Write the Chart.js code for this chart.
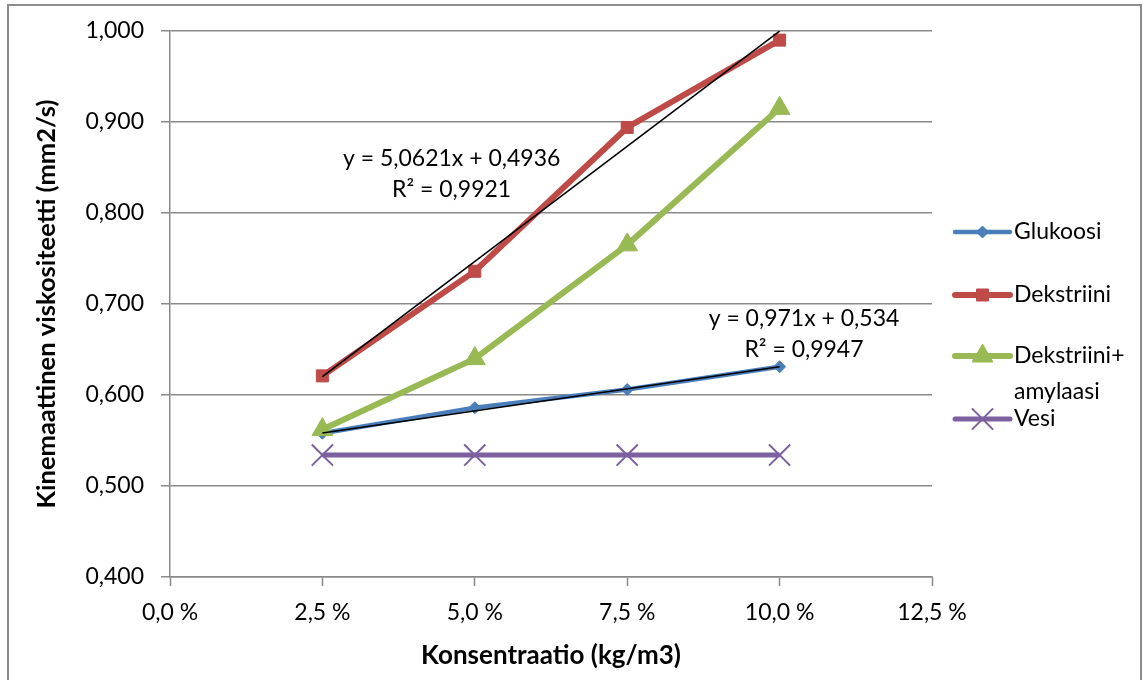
<!DOCTYPE html>
<html>
<head>
<meta charset="utf-8">
<title>Kinemaattinen viskositeetti</title>
<script src="https://cdn.jsdelivr.net/npm/chart.js@4/dist/chart.umd.min.js"></script>
<style>
  html, body { margin: 0; padding: 0; background: #fff; overflow: hidden; }
  #wrap { position: relative; width: 1143px; height: 680px; }
  #c { position: absolute; left: 0; top: 0; }
  #frame { position: absolute; left: 7px; top: 4px; width: 1135px; height: 720px;
           border: 2px solid #8c8c8c; box-sizing: border-box; pointer-events: none; }
</style>
</head>
<body>
<div id="wrap">
  <canvas id="c" width="1143" height="680"></canvas>
  <div id="frame"></div>
</div>
<script>
// Concentrations (mass fraction) and measured kinematic viscosities (mm2/s)
const concentrations = [0.025, 0.05, 0.075, 0.10];
const glukoosi = [0.558, 0.586, 0.606, 0.631];
const dekstriini = [0.621, 0.736, 0.894, 0.990];
const dekstriiniAmylaasi = [0.562, 0.640, 0.765, 0.915];
const vesi = [0.534, 0.534, 0.534, 0.534];

// Linear fits: [slope, intercept]
const glukoosiFit = [0.971, 0.534];
const dekstriiniFit = [5.0621, 0.4936];
const glukoosiFitText = ['y = 0,971x + 0,534', 'R² = 0,9947'];
const dekstriiniFitText = ['y = 5,0621x + 0,4936', 'R² = 0,9921'];

// Axis ticks
const xTicks = [0, 0.025, 0.05, 0.075, 0.10, 0.125];
const xTickLabels = ['0,0 %', '2,5 %', '5,0 %', '7,5 %', '10,0 %', '12,5 %'];
const yTicks = [0.4, 0.5, 0.6, 0.7, 0.8, 0.9, 1.0];
const yTickLabels = ['0,400', '0,500', '0,600', '0,700', '0,800', '0,900', '1,000'];

const FONT = 'Lato, Carlito, Calibri, "Open Sans", sans-serif';
const GRID = '#8a8a8a';

function points(xs, ys) { return xs.map((x, i) => ({ x: x, y: ys[i] })); }
function fitLine(fit) {
  const xs = [concentrations[0], concentrations[concentrations.length - 1]];
  return xs.map(x => ({ x: x, y: fit[0] * x + fit[1] }));
}

const series = [
  { label: 'Glukoosi', data: points(concentrations, glukoosi), borderColor: '#4a7ebb', backgroundColor: '#4a7ebb',
    borderWidth: 4.5, pointStyle: 'rectRot', pointRadius: 6, pointBorderWidth: 1, order: 3 },
  { label: 'Dekstriini', data: points(concentrations, dekstriini), borderColor: '#be4b48', backgroundColor: '#be4b48',
    borderWidth: 6, pointStyle: 'rect', pointRadius: 8.5, pointBorderWidth: 1, order: 2 },
  { label: 'Dekstriini+\namylaasi', data: points(concentrations, dekstriiniAmylaasi), borderColor: '#98b954', backgroundColor: '#98b954',
    borderWidth: 6, pointStyle: 'triangle', pointRadius: 12, pointBorderWidth: 1, order: 1 },
  { label: 'Vesi', data: points(concentrations, vesi), borderColor: '#7d60a0', backgroundColor: '#7d60a0',
    borderWidth: 5, pointStyle: 'crossRot', pointRadius: 15, pointBorderWidth: 2, order: 4 }
];

const trends = [
  { label: 'trend-glukoosi', data: fitLine(glukoosiFit), borderColor: '#000', borderWidth: 1.6,
    pointRadius: 0, order: 0 },
  { label: 'trend-dekstriini', data: fitLine(dekstriiniFit), borderColor: '#000', borderWidth: 1.6,
    pointRadius: 0, order: 0 }
];

// Draws the trendline equations at positions given in data units
const equationPlugin = {
  id: 'equations',
  afterDatasetsDraw(chart, args, opts) {
    const ctx = chart.ctx;
    const xs = chart.scales.x, ys = chart.scales.y;
    ctx.save();
    ctx.font = '23px ' + FONT;
    ctx.fillStyle = '#000';
    ctx.textAlign = 'center';
    ctx.textBaseline = 'middle';
    opts.items.forEach(it => {
      const cx = xs.getPixelForValue(it.x);
      const cy = ys.getPixelForValue(it.y);
      const n = it.lines.length;
      it.lines.forEach((t, i) => {
        ctx.fillText(t, cx, cy + (i - (n - 1) / 2) * 31);
      });
    });
    ctx.restore();
  }
};

// Legend on the right, built from the data series' own styles
const legendPlugin = {
  id: 'sideLegend',
  afterDraw(chart, args, opts) {
    const ctx = chart.ctx;
    ctx.save();
    ctx.font = '23px ' + FONT;
    ctx.textBaseline = 'middle';
    ctx.textAlign = 'left';
    series.forEach((s, i) => {
      const y = opts.rows[i];
      ctx.strokeStyle = s.borderColor;
      ctx.lineWidth = s.borderWidth;
      ctx.lineCap = 'round';
      ctx.beginPath();
      ctx.moveTo(opts.lineX0, y);
      ctx.lineTo(opts.lineX1, y);
      ctx.stroke();
      ctx.lineCap = 'butt';
      ctx.fillStyle = s.backgroundColor;
      ctx.strokeStyle = s.borderColor;
      ctx.lineWidth = s.pointBorderWidth;
      Chart.helpers.drawPoint(ctx, { pointStyle: s.pointStyle, radius: s.pointRadius, rotation: 0,
        borderWidth: s.pointBorderWidth }, (opts.lineX0 + opts.lineX1) / 2, y);
      ctx.fillStyle = '#000';
      s.label.split('\n').forEach((t, k) => ctx.fillText(t, opts.textX, y + k * 36));
    });
    ctx.restore();
  }
};

function draw() {
  Chart.defaults.font.family = FONT;
  Chart.defaults.color = '#000';
  new Chart(document.getElementById('c'), {
    type: 'line',
    data: { datasets: series.map(s => Object.assign({ fill: false, tension: 0 }, s)).concat(trends) },
    options: {
      responsive: false,
      animation: false,
      events: [],
      layout: { padding: { left: 0, right: 211, top: 31, bottom: 0 } },
      plugins: {
        legend: { display: false },
        tooltip: { enabled: false },
        equations: {
          items: [
            { x: 0.0462, y: 0.8429, lines: dekstriiniFitText },
            { x: 0.1040, y: 0.6665, lines: glukoosiFitText }
          ]
        },
        sideLegend: { rows: [232, 295, 356, 419], lineX0: 955, lineX1: 1010, textX: 1014 }
      },
      scales: {
        x: {
          type: 'linear', min: 0, max: 0.125,
          afterBuildTicks: sc => { sc.ticks = xTicks.map(v => ({ value: v })); },
          afterFit: sc => { sc.height = 103; },
          ticks: { font: { size: 23 }, padding: 13, maxRotation: 0, autoSkip: false,
                   callback: (v, i) => xTickLabels[i] },
          grid: { drawOnChartArea: false, drawTicks: true, tickLength: 9, tickColor: GRID, tickWidth: 1.5 },
          border: { display: true, color: GRID, width: 1.5 },
          title: { display: true, text: 'Konsentraatio (kg/m3)', font: { size: 26, weight: 'bold' },
                   padding: { top: 0, bottom: 9 } }
        },
        y: {
          type: 'linear', min: 0.4, max: 1.0,
          afterBuildTicks: sc => { sc.ticks = yTicks.map(v => ({ value: v })); },
          afterFit: sc => { sc.width = 170; },
          ticks: { font: { size: 23 }, padding: 17, callback: (v, i) => yTickLabels[i] },
          grid: { color: GRID, lineWidth: 1.5, drawTicks: true, tickLength: 9, tickColor: GRID, tickWidth: 1.5 },
          border: { display: true, color: GRID, width: 1.5 },
          title: { display: true, text: 'Kinemaattinen viskositeetti (mm2/s)', font: { size: 25.5, weight: 'bold' },
                   padding: { top: 31, bottom: 0 } }
        }
      }
    },
    plugins: [equationPlugin, legendPlugin]
  });
}

if (document.fonts && document.fonts.load) {
  Promise.all([document.fonts.load('23px Lato'), document.fonts.load('bold 23px Lato')])
    .then(draw, draw);
} else {
  draw();
}
</script>
</body>
</html>
